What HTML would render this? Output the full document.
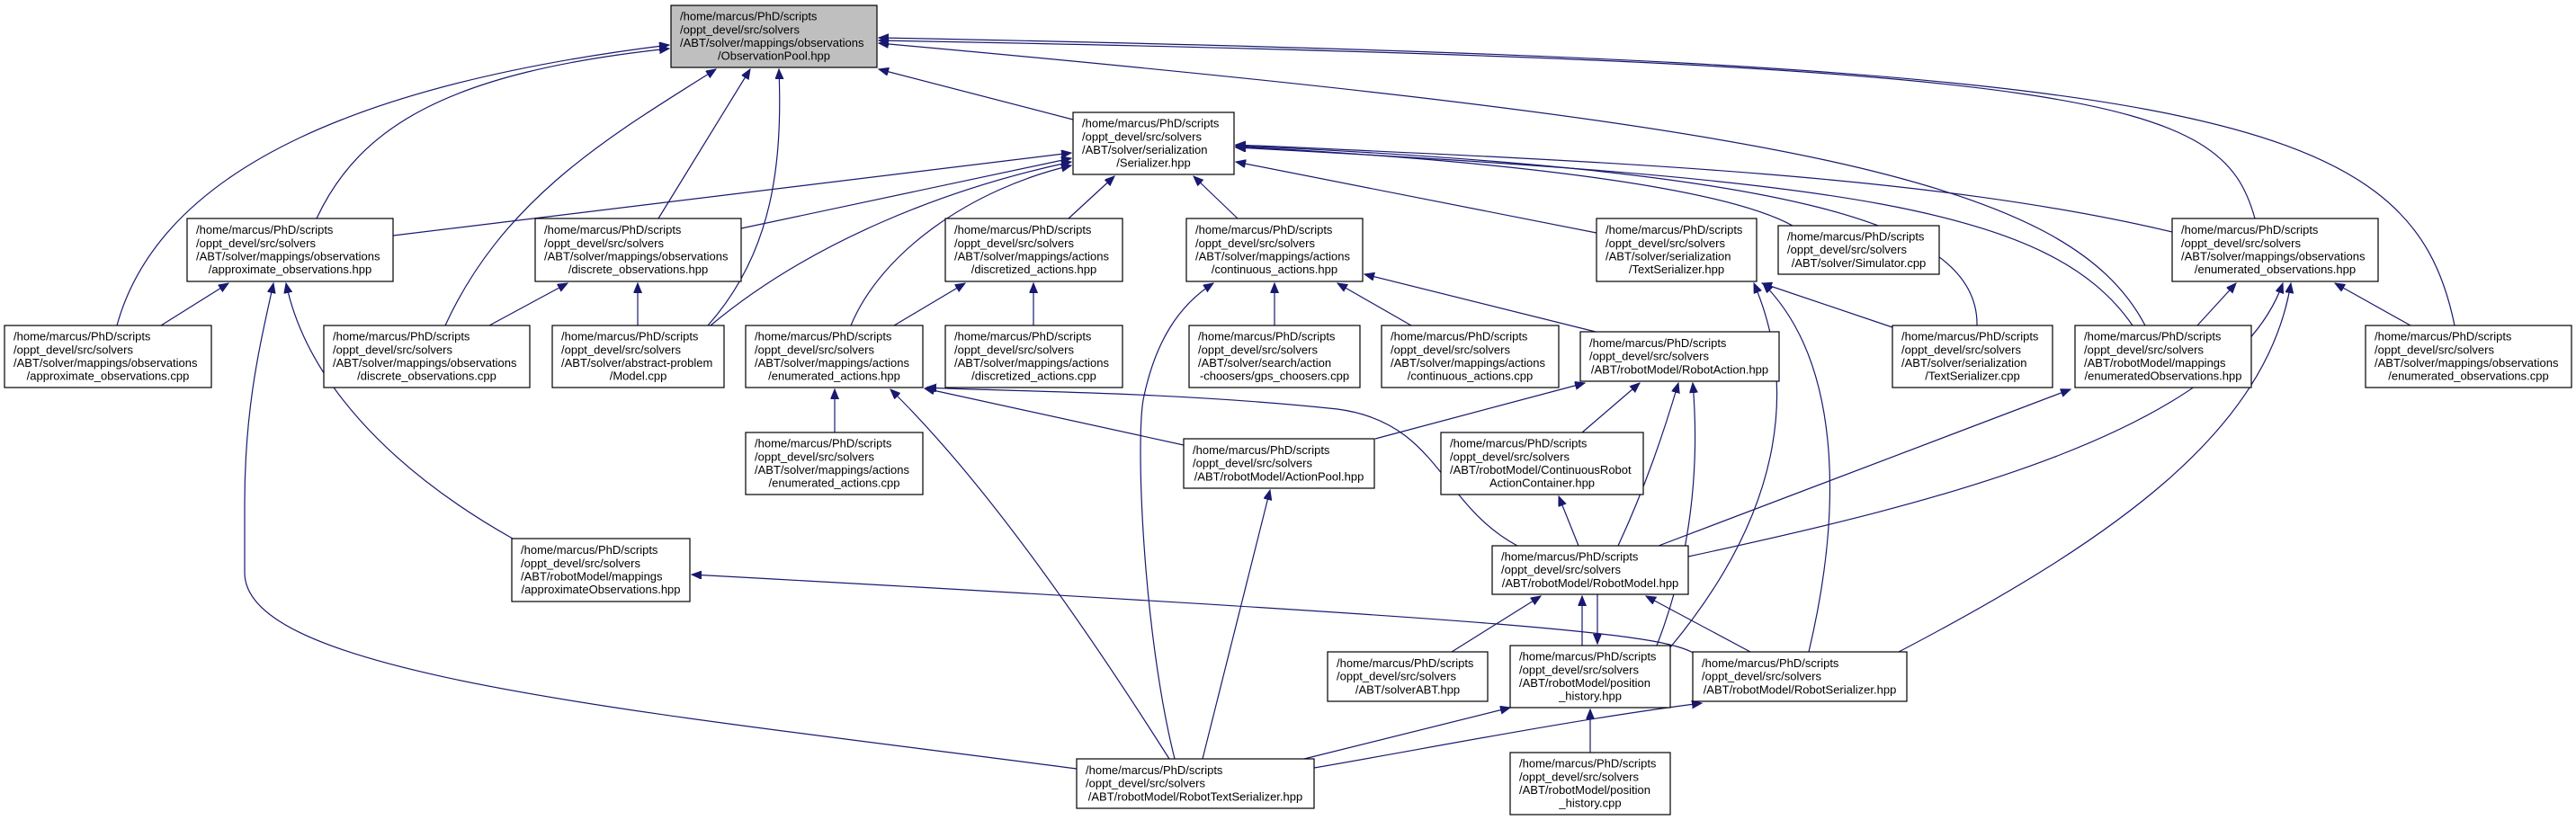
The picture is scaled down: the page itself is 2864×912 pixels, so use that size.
<!DOCTYPE html>
<html><head><meta charset="utf-8"><style>
html,body{margin:0;padding:0;background:#fff;}
svg{display:block;}
text{font-family:"Liberation Sans",sans-serif;font-size:13px;fill:#000;}
</style></head><body>
<svg id="g" width="2864" height="912" viewBox="0 0 2864 912" xmlns="http://www.w3.org/2000/svg">
<defs><marker id="a" markerUnits="userSpaceOnUse" markerWidth="12" markerHeight="10" refX="11" refY="4.5" orient="auto"><path d="M0,0 L11,4.5 L0,9 z" fill="#191970" stroke="#191970"/></marker></defs>
<g id="e" fill="none" stroke="#191970" stroke-width="1.2" marker-end="url(#a)"></g>
<g id="n"></g>
</svg>
<script>
var H="/home/marcus/PhD/scripts",O="/oppt_devel/src/solvers";
var N=[
[746,6,975,75,1,[H,O,"/ABT/solver/mappings/observations","/ObservationPool.hpp"]],
[1193,125,1372,194,0,[H,O,"/ABT/solver/serialization","/Serializer.hpp"]],
[208,243,437,313,0,[H,O,"/ABT/solver/mappings/observations","/approximate_observations.hpp"]],
[595,243,824,313,0,[H,O,"/ABT/solver/mappings/observations","/discrete_observations.hpp"]],
[1051,243,1248,313,0,[H,O,"/ABT/solver/mappings/actions","/discretized_actions.hpp"]],
[1319,243,1515,313,0,[H,O,"/ABT/solver/mappings/actions","/continuous_actions.hpp"]],
[1775,243,1953,313,0,[H,O,"/ABT/solver/serialization","/TextSerializer.hpp"]],
[1977,251,2156,305,0,[H,O,"/ABT/solver/Simulator.cpp"]],
[2415,243,2644,313,0,[H,O,"/ABT/solver/mappings/observations","/enumerated_observations.hpp"]],
[5,362,235,431,0,[H,O,"/ABT/solver/mappings/observations","/approximate_observations.cpp"]],
[360,362,589,431,0,[H,O,"/ABT/solver/mappings/observations","/discrete_observations.cpp"]],
[614,362,805,431,0,[H,O,"/ABT/solver/abstract-problem","/Model.cpp"]],
[829,362,1026,431,0,[H,O,"/ABT/solver/mappings/actions","/enumerated_actions.hpp"]],
[1051,362,1248,431,0,[H,O,"/ABT/solver/mappings/actions","/discretized_actions.cpp"]],
[1322,362,1512,431,0,[H,O,"/ABT/solver/search/action","-choosers/gps_choosers.cpp"]],
[1536,362,1733,431,0,[H,O,"/ABT/solver/mappings/actions","/continuous_actions.cpp"]],
[1757,369,1978,424,0,[H,O,"/ABT/robotModel/RobotAction.hpp"]],
[2104,362,2282,431,0,[H,O,"/ABT/solver/serialization","/TextSerializer.cpp"]],
[2307,362,2503,431,0,[H,O,"/ABT/robotModel/mappings","/enumeratedObservations.hpp"]],
[2630,362,2859,431,0,[H,O,"/ABT/solver/mappings/observations","/enumerated_observations.cpp"]],
[829,481,1026,550,0,[H,O,"/ABT/solver/mappings/actions","/enumerated_actions.cpp"]],
[1316,488,1528,543,0,[H,O,"/ABT/robotModel/ActionPool.hpp"]],
[1602,481,1827,550,0,[H,O,"/ABT/robotModel/ContinuousRobot","ActionContainer.hpp"]],
[569,599,767,669,0,[H,O,"/ABT/robotModel/mappings","/approximateObservations.hpp"]],
[1659,607,1877,661,0,[H,O,"/ABT/robotModel/RobotModel.hpp"]],
[1476,725,1654,780,0,[H,O,"/ABT/solverABT.hpp"]],
[1679,718,1857,787,0,[H,O,"/ABT/robotModel/position","_history.hpp"]],
[1882,725,2120,780,0,[H,O,"/ABT/robotModel/RobotSerializer.hpp"]],
[1197,844,1461,899,0,[H,O,"/ABT/robotModel/RobotTextSerializer.hpp"]],
[1679,837,1857,906,0,[H,O,"/ABT/robotModel/position","_history.cpp"]]
];
var E=[
"M130,362 C180,180 420,90 744,50","M352,243 C400,140 500,80 744,54","M495,362 C560,220 680,150 796,77",
"M732,243 L834,77","M787,362 C860,280 870,180 866,77","M1193,133 L977,77",
"M2729,362 C2680,120 2450,70 977,42","M2507,243 C2470,110 2350,70 977,45","M2385,362 C2300,200 2000,140 977,48",
"M437,262 L1191,170","M824,254 L1191,176","M790,362 C900,270 1050,210 1191,180","M946,362 C980,280 1080,210 1191,184",
"M1188,243 L1239,196","M1376,243 L1327,196","M1775,259 L1374,180","M1993,251 C1900,200 1600,175 1374,163",
"M2198,362 C2200,250 2000,190 1374,162","M2371,362 C2280,230 2050,200 1374,164","M2415,258 C2150,195 1800,180 1374,161",
"M179,362 L254,315","M570,599 C430,520 340,420 318,315","M1197,855 C700,790 272,750 272,637 L272,560 C272,450 290,380 304,315",
"M544,362 L631,315","M709,362 L709,315","M994,362 L1073,315","M1149,362 L1149,315",
"M1417,362 L1417,315","M1569,362 L1487,315","M1774,369 L1517,305",
"M1306,844 C1270,700 1262,480 1272,440 C1285,380 1310,340 1349,315",
"M928,481 L928,433","M1316,495 L1028,432","M1687,607 C1600,560 1600,470 1487,455 C1300,435 1100,435 1030,431",
"M1300,844 Q1120,560 990,433",
"M1529,488 L1762,426","M1759,481 L1823,426","M1799,607 C1830,540 1850,480 1866,426","M1842,718 C1880,620 1890,520 1882,426",
"M1755,607 L1733,552","M1959,313 L1959,313","M2104,364 L1959,315",
"M1857,720 C1990,560 1995,420 1950,315","M2011,725 C2050,560 2045,400 1960,315",
"M2443,362 L2486,315","M2680,362 L2596,315","M1844,607 L2302,433",
"M1877,619 C2150,560 2480,480 2538,315","M2111,725 C2350,600 2520,480 2547,315",
"M1614,725 L1713,663","M1759,718 L1759,663","M1776,661 L1776,716","M1946,725 L1830,663",
"M1337,844 L1412,545","M1884,727 C1850,705 1700,690 769,639",
"M1450,844 L1679,787","M1768,837 L1768,789","M1461,854 C1600,830 1750,800 1892,782"
];
var ns="http://www.w3.org/2000/svg",eg=document.getElementById("e"),ng=document.getElementById("n");
E.forEach(function(d){if(d=="M1959,313 L1959,313")return;var p=document.createElementNS(ns,"path");p.setAttribute("d",d);eg.appendChild(p);});
N.forEach(function(b){var r=document.createElementNS(ns,"rect");r.setAttribute("x",b[0]);r.setAttribute("y",b[1]);r.setAttribute("width",b[2]-b[0]);r.setAttribute("height",b[3]-b[1]);r.setAttribute("fill",b[4]?"#bfbfbf":"#fff");r.setAttribute("stroke","#000");r.setAttribute("stroke-width","1.2");ng.appendChild(r);
var L=b[5],h=b[3]-b[1],y0=b[1]+(h-L.length*14.7)/2+11.5;
L.forEach(function(s,i){var t=document.createElementNS(ns,"text");var last=i==L.length-1;
if(last){t.setAttribute("x",(b[0]+b[2])/2);t.setAttribute("text-anchor","middle");}else t.setAttribute("x",b[0]+10);
t.setAttribute("y",y0+i*14.7);t.textContent=s;ng.appendChild(t);});});
</script>
</body></html>
